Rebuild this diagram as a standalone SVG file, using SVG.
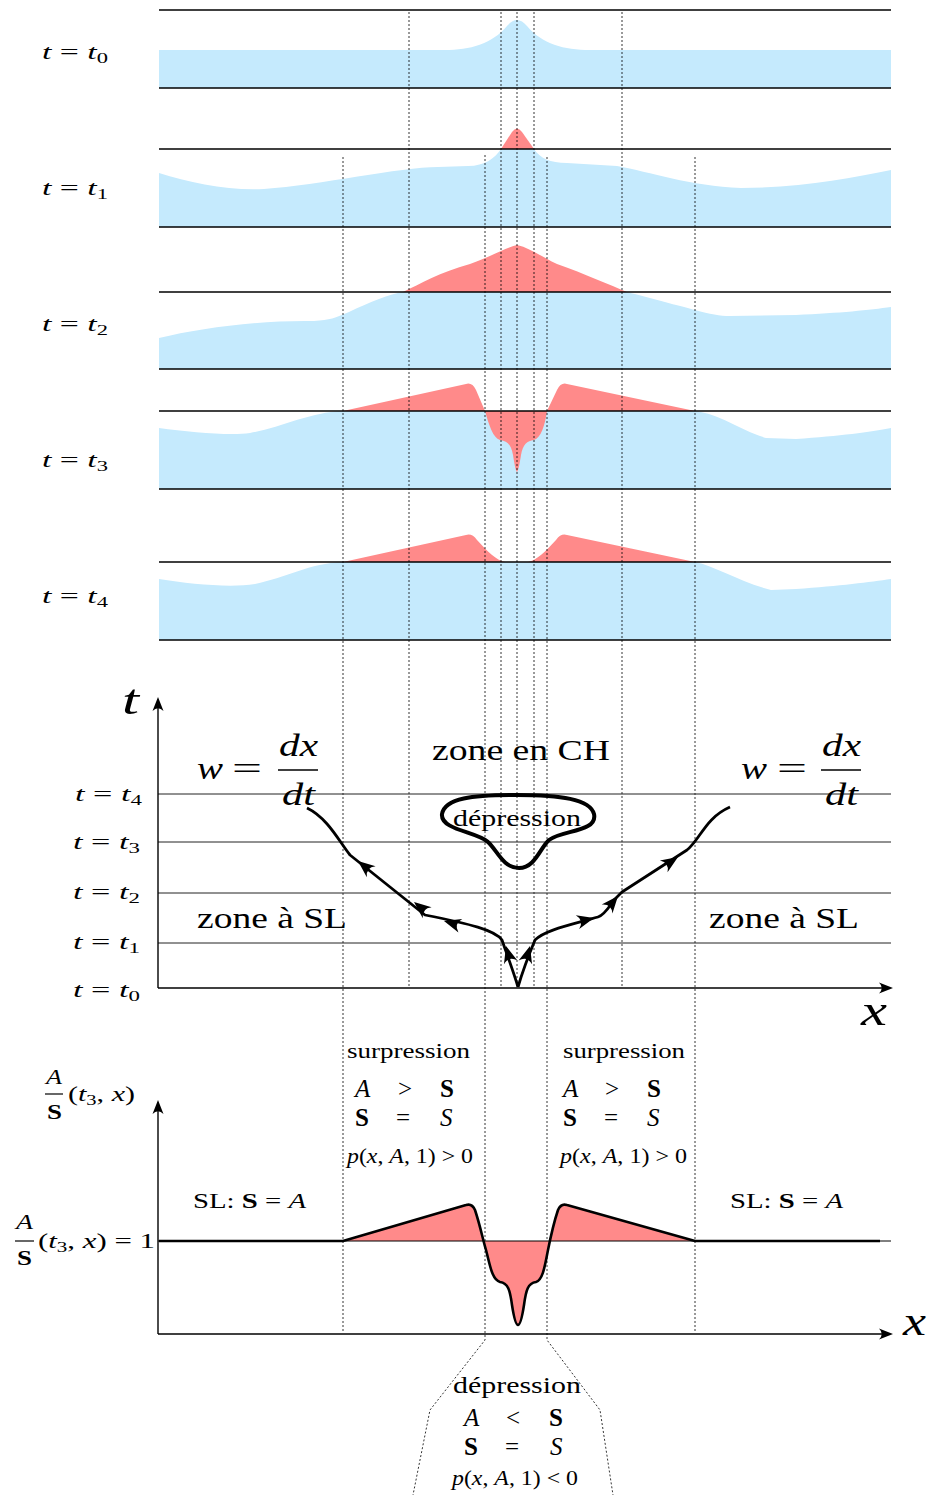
<svg xmlns="http://www.w3.org/2000/svg" xmlns:xlink="http://www.w3.org/1999/xlink" width="930" height="1495" viewBox="0 0 930 1495">
<style>
.tx{font-family:"Liberation Serif","DejaVu Serif",serif;fill:#000}
.i{font-style:italic}
.b{font-weight:bold}
.blue{fill:#c5eafd;stroke:none}
.red{fill:#ff8a8a;stroke:none}
.pl{stroke:#000;stroke-width:1.4;fill:none}
.hl{stroke:#222;stroke-width:1;fill:none}
.dash{stroke:#000;stroke-width:0.8;stroke-dasharray:2 2;fill:none}
.ax{stroke:#000;stroke-width:1.4;fill:none}
.tr{stroke:#000;stroke-width:2.8;fill:none;stroke-linejoin:round}
</style>
<defs>
<path id="ah" d="M0,0 L-14,-5.5 Q-8.5,0 -14,5.5 Z" fill="#000"/>
<path id="ah2" d="M0,0 L-17,-7 Q-10,0 -17,7 Z" fill="#000"/>
</defs>

<g id="panel-t0">
<path class="blue" d="M159,88 V50 H445 C470,50 492,44 507,26 Q517,14 527,26 C542,44 564,50 590,50 H891 V88 Z"/>
<line class="pl" x1="159" y1="10" x2="891" y2="10"/>
<line class="pl" x1="159" y1="88" x2="891" y2="88"/>
<text class="tx" x="42" y="59" font-size="21" textLength="66" lengthAdjust="spacingAndGlyphs"><tspan class="i">t</tspan> = <tspan class="i">t</tspan><tspan font-size="14" dy="4">0</tspan></text>
</g>

<g id="panel-t1">
<path class="blue" d="M159,227 V173 C190,183 230,191 264,189 C320,185 400,167 438,167 L468,166 C485,166 495,158 501,149 L534,149 C540,158 550,163 567,163 L617,166 C650,172 690,186 741,188 C800,188 850,178 891,170 V227 Z"/>
<path class="red" d="M501,149 L512,132 Q517,125 522,132 L534,149 Z"/>
<line class="pl" x1="159" y1="149" x2="891" y2="149"/>
<line class="pl" x1="159" y1="227" x2="891" y2="227"/>
<text class="tx" x="42" y="195" font-size="21" textLength="66" lengthAdjust="spacingAndGlyphs"><tspan class="i">t</tspan> = <tspan class="i">t</tspan><tspan font-size="14" dy="4">1</tspan></text>
</g>

<g id="panel-t2">
<path class="blue" d="M159,369 V338 C200,328 260,320 314,321 C330,320 335,318 349,312 C370,302 390,294 403,292 L627,292 C650,298 680,306 695,310 C710,314 720,316 730,316 L796,315 C840,313 870,310 891,307 V369 Z"/>
<path class="red" d="M403,292 C420,284 440,272 470,264 C490,257 505,248 517,245 C530,248 540,256 557,264 C585,274 610,285 627,292 Z"/>
<line class="pl" x1="159" y1="292" x2="891" y2="292"/>
<line class="pl" x1="159" y1="369" x2="891" y2="369"/>
<text class="tx" x="42" y="331" font-size="21" textLength="66" lengthAdjust="spacingAndGlyphs"><tspan class="i">t</tspan> = <tspan class="i">t</tspan><tspan font-size="14" dy="4">2</tspan></text>
</g>

<g id="panel-t3">
<path class="blue" d="M159,489 V428 C190,432 230,436 250,433 C280,428 310,412 343,411 L695,411 C720,414 740,430 766,438 L796,439 C840,436 870,432 891,428 V489 Z"/>
<path class="red" d="M343,411 L466,384 Q472,382 476,390 L485,411 Z"/>
<path class="red" d="M547,411 L557,390 Q561,382 567,384 L695,411 Z"/>
<path class="red" d="M485,411 C489,425 493,438 500,440 C507,441 511,444 513,455 C514,462 516,472 517,472 C518,472 520,462 521,455 C523,444 527,441 534,440 C541,438 545,425 547,411 Z"/>
<line class="pl" x1="159" y1="411" x2="891" y2="411"/>
<line class="pl" x1="159" y1="489" x2="891" y2="489"/>
<text class="tx" x="42" y="467" font-size="21" textLength="66" lengthAdjust="spacingAndGlyphs"><tspan class="i">t</tspan> = <tspan class="i">t</tspan><tspan font-size="14" dy="4">3</tspan></text>
</g>

<g id="panel-t4">
<path class="blue" d="M159,640 V579 C190,584 230,588 255,584 C285,578 310,563 343,562 L695,562 C715,566 740,582 771,590 L796,589 C840,586 870,582 891,579 V640 Z"/>
<path class="red" d="M343,562 L466,535 Q472,533 477,540 C488,552 496,560 505,562 Z"/>
<path class="red" d="M528,562 C537,560 545,552 556,540 Q561,533 567,535 L695,562 Z"/>
<line class="pl" x1="159" y1="562" x2="891" y2="562"/>
<line class="pl" x1="159" y1="640" x2="891" y2="640"/>
<text class="tx" x="42" y="603" font-size="21" textLength="66" lengthAdjust="spacingAndGlyphs"><tspan class="i">t</tspan> = <tspan class="i">t</tspan><tspan font-size="14" dy="4">4</tspan></text>
</g>

<g id="guides">
<line class="dash" x1="409" y1="12" x2="409" y2="987"/>
<line class="dash" x1="501" y1="12" x2="501" y2="987"/>
<line class="dash" x1="517" y1="12" x2="517" y2="987"/>
<line class="dash" x1="534" y1="12" x2="534" y2="987"/>
<line class="dash" x1="622" y1="12" x2="622" y2="987"/>
<line class="dash" x1="343" y1="157" x2="343" y2="1333"/>
<line class="dash" x1="695" y1="157" x2="695" y2="1333"/>
<polyline class="dash" points="485,155 485,1340 430,1410 413,1495"/>
<polyline class="dash" points="547,157 547,1340 600,1410 613,1495"/>
</g>

<g id="tx-diagram">
<line class="hl" x1="158" y1="794" x2="891" y2="794"/>
<line class="hl" x1="158" y1="842" x2="891" y2="842"/>
<line class="hl" x1="158" y1="893" x2="891" y2="893"/>
<line class="hl" x1="158" y1="943" x2="891" y2="943"/>
<line class="ax" x1="158" y1="988" x2="158" y2="700"/>
<line class="ax" x1="158" y1="988" x2="890" y2="988"/>
<use xlink:href="#ah" transform="translate(158,697) rotate(-90)"/>
<use xlink:href="#ah" transform="translate(893,988)"/>
<text class="tx i" x="122" y="714" font-size="42" textLength="17" lengthAdjust="spacingAndGlyphs">t</text>
<text class="tx i" x="861" y="1025" font-size="44" textLength="26" lengthAdjust="spacingAndGlyphs">x</text>
<text class="tx" x="75" y="801" font-size="21" textLength="67" lengthAdjust="spacingAndGlyphs"><tspan class="i">t</tspan> = <tspan class="i">t</tspan><tspan font-size="14" dy="4">4</tspan></text>
<text class="tx" x="73" y="849" font-size="21" textLength="67" lengthAdjust="spacingAndGlyphs"><tspan class="i">t</tspan> = <tspan class="i">t</tspan><tspan font-size="14" dy="4">3</tspan></text>
<text class="tx" x="73" y="899" font-size="21" textLength="67" lengthAdjust="spacingAndGlyphs"><tspan class="i">t</tspan> = <tspan class="i">t</tspan><tspan font-size="14" dy="4">2</tspan></text>
<text class="tx" x="73" y="949" font-size="21" textLength="67" lengthAdjust="spacingAndGlyphs"><tspan class="i">t</tspan> = <tspan class="i">t</tspan><tspan font-size="14" dy="4">1</tspan></text>
<text class="tx" x="73" y="997" font-size="21" textLength="67" lengthAdjust="spacingAndGlyphs"><tspan class="i">t</tspan> = <tspan class="i">t</tspan><tspan font-size="14" dy="4">0</tspan></text>
</g>

<g id="speed-left">
<text class="tx i" x="197" y="779" font-size="32" textLength="26" lengthAdjust="spacingAndGlyphs">w</text>
<text class="tx" x="232" y="779" font-size="32" textLength="30" lengthAdjust="spacingAndGlyphs">=</text>
<text class="tx i" x="279" y="756" font-size="32" textLength="39" lengthAdjust="spacingAndGlyphs">dx</text>
<line x1="278" y1="770" x2="318" y2="770" stroke="#000" stroke-width="1.5"/>
<text class="tx i" x="282" y="805" font-size="32" textLength="33" lengthAdjust="spacingAndGlyphs">dt</text>
</g>
<g id="speed-right">
<text class="tx i" x="741" y="779" font-size="32" textLength="26" lengthAdjust="spacingAndGlyphs">w</text>
<text class="tx" x="777" y="779" font-size="32" textLength="30" lengthAdjust="spacingAndGlyphs">=</text>
<text class="tx i" x="822" y="756" font-size="32" textLength="39" lengthAdjust="spacingAndGlyphs">dx</text>
<line x1="821" y1="770" x2="861" y2="770" stroke="#000" stroke-width="1.5"/>
<text class="tx i" x="825" y="805" font-size="32" textLength="33" lengthAdjust="spacingAndGlyphs">dt</text>
</g>

<g id="zone-ch">
<text class="tx" x="432" y="760" font-size="29" textLength="178" lengthAdjust="spacingAndGlyphs">zone en CH</text>
</g>
<g id="zone-sl-left">
<text class="tx" x="197" y="928" font-size="29" textLength="150" lengthAdjust="spacingAndGlyphs">zone à SL</text>
</g>
<g id="zone-sl-right">
<text class="tx" x="709" y="928" font-size="29" textLength="150" lengthAdjust="spacingAndGlyphs">zone à SL</text>
</g>

<g id="depression-blob">
<path d="M519,868 C535,868 540,848 549,840 C562,830 598,832 594,814 C590,799 560,795 517,795 C472,795 445,798 442,814 C440,830 478,832 488,842 C497,850 503,868 519,868 Z" fill="none" stroke="#000" stroke-width="4"/>
<text class="tx" x="453" y="826" font-size="23" textLength="128" lengthAdjust="spacingAndGlyphs">dépression</text>
</g>

<g id="trajectories">
<path class="tr" d="M518,987 C513,970 506,952 502,940 C495,930 470,924 425,915 L350,855 C340,843 328,818 307,808"/>
<path class="tr" d="M518,987 C523,970 530,952 535,940 C545,930 570,925 598,917 C605,915 610,905 615,899 L622,892 L687,850 C700,840 705,818 730,807"/>
<use xlink:href="#ah2" transform="translate(506,946) rotate(-106)"/>
<use xlink:href="#ah2" transform="translate(530,946) rotate(-74)"/>
<use xlink:href="#ah2" transform="translate(444,921) rotate(196)"/>
<use xlink:href="#ah2" transform="translate(414,902) rotate(219)"/>
<use xlink:href="#ah2" transform="translate(358,861) rotate(219)"/>
<use xlink:href="#ah2" transform="translate(594,918) rotate(-14)"/>
<use xlink:href="#ah2" transform="translate(618,896) rotate(-50)"/>
<use xlink:href="#ah2" transform="translate(678,857) rotate(-33)"/>
</g>

<g id="profile-t3">
<path class="red" d="M343,1241 L466,1205 Q472,1203 475,1210 C480,1225 483,1240 486,1250 C490,1265 492,1280 500,1282 C508,1283 510,1290 512,1305 C514,1318 516,1325 518,1325 C520,1325 522,1318 524,1305 C526,1290 528,1283 536,1282 C543,1280 545,1265 548,1250 C550,1240 553,1225 558,1210 Q561,1203 567,1205 L695,1241 Z"/>
<line x1="158" y1="1241" x2="891" y2="1241" stroke="#000" stroke-width="1"/>
<path d="M159,1241 H343 L466,1205 Q472,1203 475,1210 C480,1225 483,1240 486,1250 C490,1265 492,1280 500,1282 C508,1283 510,1290 512,1305 C514,1318 516,1325 518,1325 C520,1325 522,1318 524,1305 C526,1290 528,1283 536,1282 C543,1280 545,1265 548,1250 C550,1240 553,1225 558,1210 Q561,1203 567,1205 L695,1241 H880" fill="none" stroke="#000" stroke-width="2.6" stroke-linejoin="round"/>
<line class="ax" x1="158" y1="1334" x2="158" y2="1103"/>
<line class="ax" x1="158" y1="1334" x2="890" y2="1334"/>
<use xlink:href="#ah" transform="translate(158,1100) rotate(-90)"/>
<use xlink:href="#ah" transform="translate(893,1334)"/>
<text class="tx i" x="903" y="1335" font-size="42" textLength="23" lengthAdjust="spacingAndGlyphs">x</text>
</g>

<g id="ylabel-top">
<text class="tx i" x="46" y="1084" font-size="22" textLength="16" lengthAdjust="spacingAndGlyphs">A</text>
<line x1="45" y1="1094" x2="63" y2="1094" stroke="#000" stroke-width="1.2"/>
<text class="tx b" x="47" y="1119" font-size="22" textLength="15" lengthAdjust="spacingAndGlyphs">S</text>
<text class="tx" x="68" y="1101" font-size="22" textLength="67" lengthAdjust="spacingAndGlyphs">(<tspan class="i">t</tspan><tspan font-size="15" dy="4">3</tspan><tspan dy="-4">, </tspan><tspan class="i">x</tspan>)</text>
</g>
<g id="ylabel-one">
<text class="tx i" x="16" y="1229" font-size="22" textLength="17" lengthAdjust="spacingAndGlyphs">A</text>
<line x1="15" y1="1241" x2="34" y2="1241" stroke="#000" stroke-width="1.2"/>
<text class="tx b" x="17" y="1265" font-size="22" textLength="15" lengthAdjust="spacingAndGlyphs">S</text>
<text class="tx" x="38" y="1248" font-size="22" textLength="117" lengthAdjust="spacingAndGlyphs">(<tspan class="i">t</tspan><tspan font-size="15" dy="4">3</tspan><tspan dy="-4">, </tspan><tspan class="i">x</tspan>) = 1</text>
</g>

<g id="sl-left">
<text class="tx" x="193" y="1208" font-size="22" textLength="113" lengthAdjust="spacingAndGlyphs">SL: <tspan class="b">S</tspan> = <tspan class="i">A</tspan></text>
</g>
<g id="sl-right">
<text class="tx" x="730" y="1208" font-size="22" textLength="113" lengthAdjust="spacingAndGlyphs">SL: <tspan class="b">S</tspan> = <tspan class="i">A</tspan></text>
</g>

<g id="surpression-left">
<text class="tx" x="347" y="1058" font-size="22" textLength="123" lengthAdjust="spacingAndGlyphs">surpression</text>
<text class="tx i" x="355" y="1097" font-size="25">A</text>
<text class="tx" x="398" y="1097" font-size="25">&gt;</text>
<text class="tx b" x="440" y="1097" font-size="25">S</text>
<text class="tx b" x="355" y="1126" font-size="25">S</text>
<text class="tx" x="396" y="1126" font-size="25">=</text>
<text class="tx i" x="440" y="1126" font-size="25">S</text>
<text class="tx" x="347" y="1163" font-size="21" textLength="126" lengthAdjust="spacingAndGlyphs"><tspan class="i">p</tspan>(<tspan class="i">x</tspan>, <tspan class="i">A</tspan>, 1) &gt; 0</text>
</g>

<g id="surpression-right">
<text class="tx" x="563" y="1058" font-size="22" textLength="122" lengthAdjust="spacingAndGlyphs">surpression</text>
<text class="tx i" x="563" y="1097" font-size="25">A</text>
<text class="tx" x="605" y="1097" font-size="25">&gt;</text>
<text class="tx b" x="647" y="1097" font-size="25">S</text>
<text class="tx b" x="563" y="1126" font-size="25">S</text>
<text class="tx" x="604" y="1126" font-size="25">=</text>
<text class="tx i" x="647" y="1126" font-size="25">S</text>
<text class="tx" x="560" y="1163" font-size="21" textLength="127" lengthAdjust="spacingAndGlyphs"><tspan class="i">p</tspan>(<tspan class="i">x</tspan>, <tspan class="i">A</tspan>, 1) &gt; 0</text>
</g>

<g id="depression-bottom">
<text class="tx" x="453" y="1393" font-size="23" textLength="128" lengthAdjust="spacingAndGlyphs">dépression</text>
<text class="tx i" x="464" y="1426" font-size="25">A</text>
<text class="tx" x="506" y="1426" font-size="25">&lt;</text>
<text class="tx b" x="549" y="1426" font-size="25">S</text>
<text class="tx b" x="464" y="1455" font-size="25">S</text>
<text class="tx" x="505" y="1455" font-size="25">=</text>
<text class="tx i" x="550" y="1455" font-size="25">S</text>
<text class="tx" x="452" y="1485" font-size="21" textLength="126" lengthAdjust="spacingAndGlyphs"><tspan class="i">p</tspan>(<tspan class="i">x</tspan>, <tspan class="i">A</tspan>, 1) &lt; 0</text>
</g>
</svg>
